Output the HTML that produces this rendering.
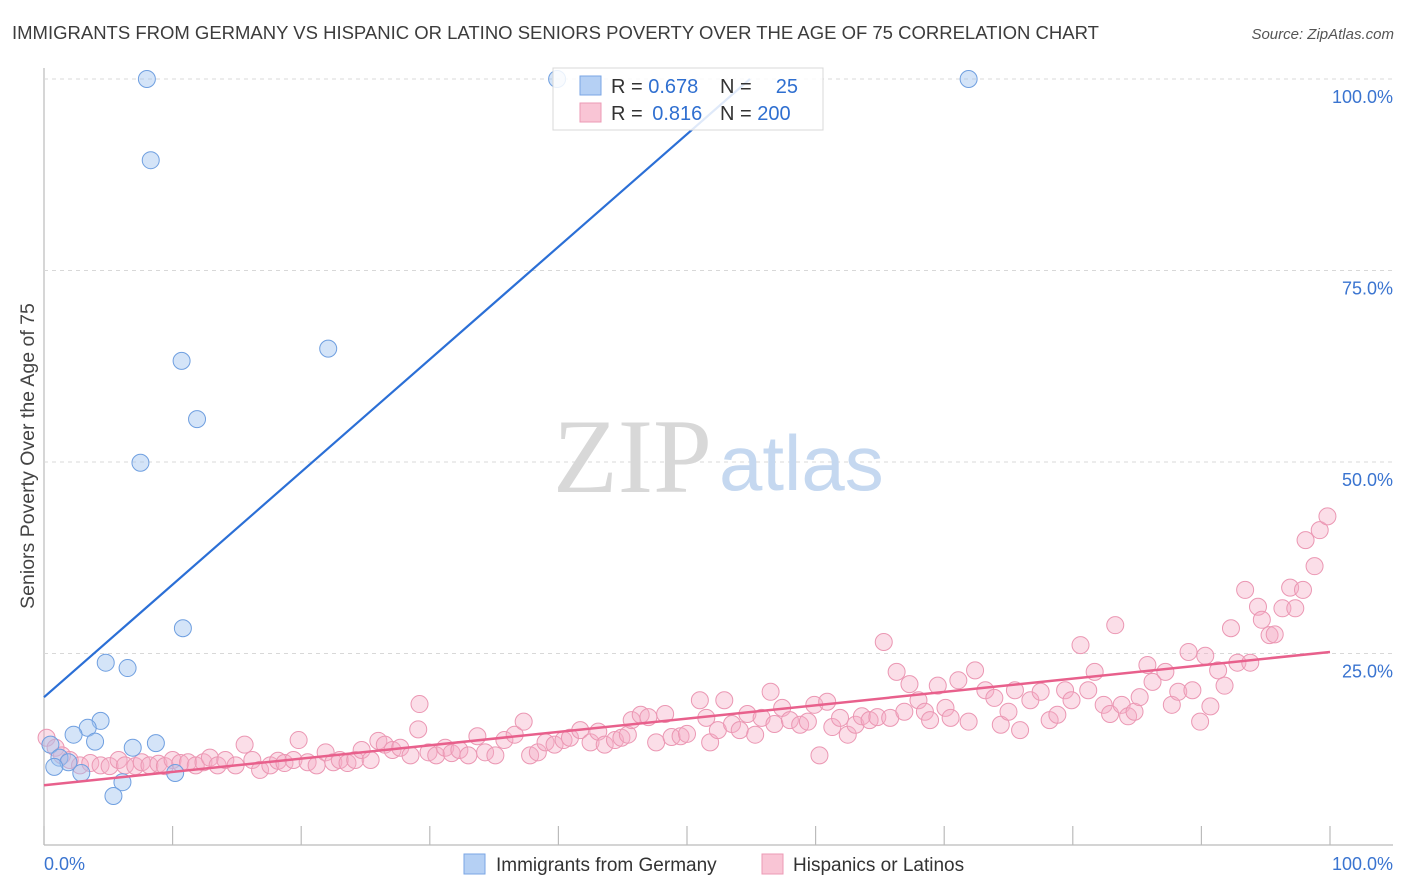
<!DOCTYPE html>
<html><head><meta charset="utf-8"><style>
body{margin:0;background:#fff;font-family:"Liberation Sans",sans-serif;}
#wrap{position:relative;width:1406px;height:892px;overflow:hidden;}
</style></head><body>
<div id="wrap">
<svg id="chart" width="1406" height="892" xmlns="http://www.w3.org/2000/svg">
<text x="12" y="39" font-size="18.5" fill="#3c3c3c">IMMIGRANTS FROM GERMANY VS HISPANIC OR LATINO SENIORS POVERTY OVER THE AGE OF 75 CORRELATION CHART</text>
<text x="1394" y="39" font-size="15" font-style="italic" fill="#555" text-anchor="end">Source: ZipAtlas.com</text>
<text transform="translate(34,456) rotate(-90)" font-size="19.5" fill="#444" text-anchor="middle">Seniors Poverty Over the Age of 75</text>
<g id="grid"></g>
<g>
<text x="553" y="492" font-family="Liberation Serif,serif" font-size="106" fill="#d8d8d8">ZIP</text>
<text x="719" y="490" font-size="78" fill="#c5d8f0">atlas</text>
</g>
<g id="pts"></g>
<g id="lines"></g>
<g>
<rect x="553" y="68" width="270" height="62" fill="rgba(255,255,255,0.85)" stroke="#d8d8d8"/>
<rect x="580" y="76" width="21" height="19" fill="#b5d0f4" stroke="#7aa6e4"/>
<text x="611" y="93" font-size="20" fill="#333">R = <tspan fill="#2f6fd0">0.678</tspan></text>
<text x="720" y="93" font-size="20" fill="#333">N =</text>
<text x="798" y="93" font-size="20" fill="#2f6fd0" text-anchor="end">25</text>
<rect x="580" y="103" width="21" height="19" fill="#f9c5d5" stroke="#ec9ab5"/>
<text x="611" y="120" font-size="20" fill="#333">R = <tspan fill="#2f6fd0" dx="4">0.816</tspan></text>
<text x="720" y="120" font-size="20" fill="#333">N = <tspan fill="#2f6fd0">200</tspan></text>
</g>
<g>
<rect x="464" y="854" width="21" height="20" fill="#b5d0f4" stroke="#7aa6e4"/>
<text x="496" y="871" font-size="19" fill="#333">Immigrants from Germany</text>
<rect x="762" y="854" width="21" height="20" fill="#f9c5d5" stroke="#ec9ab5"/>
<text x="793" y="871" font-size="19" fill="#333">Hispanics or Latinos</text>
</g>
<text x="44" y="870" font-size="18" fill="#3a74d0">0.0%</text>
<text x="1393" y="870" font-size="18" fill="#3a74d0" text-anchor="end">100.0%</text>
</svg>
</div>
<script>
const yTicks=[25,50,75,100];
const xTicks=[0,10,20,30,40,50,60,70,80,90,100];
const blueX=[8,39.9,71.9,8.3,10.7,22.1,11.9,7.5,10.8,4.8,6.5,4.4,3.4,2.3,3.97,6.9,8.7,0.5,1.2,1.9,0.8,2.9,10.2,6.1,5.4];
const blueY=[100,100,100,89.4,63.2,64.8,55.6,49.9,28.3,23.8,23.1,16.2,15.3,14.4,13.5,12.7,13.3,13.1,11.4,10.8,10.2,9.4,9.4,8.2,6.4];
const pinkX=[0.2,0.9,1.4,2.0,2.8,3.6,4.4,5.1,5.8,6.3,7.1,7.6,8.2,8.9,9.4,10,10.6,11.2,11.8,12.4,12.9,13.5,14.1,14.9,15.6,16.2,16.8,17.6,18.2,18.7,19.4,19.8,20.5,21.2,21.9,22.5,23,23.6,24.2,24.7,25.4,26,26.5,27.1,27.7,28.5,29.1,29.2,29.9,30.5,31.2,31.7,32.3,33,33.7,34.3,35.1,35.8,36.6,37.3,37.8,38.4,39,39.7,40.4,40.9,41.7,42.5,43.1,43.6,44.4,44.9,45.4,45.7,46.4,47,47.6,48.3,48.8,49.5,50,51,51.5,51.8,52.4,52.9,53.5,54.1,54.7,55.3,55.8,56.5,56.8,57.4,58,58.8,59.4,59.9,60.3,60.9,61.3,61.9,62.5,63.1,63.6,64.2,64.8,65.3,65.8,66.3,66.9,67.3,68,68.5,68.9,69.5,70.1,70.5,71.1,71.9,72.4,73.2,73.9,74.4,75,75.5,75.9,76.7,77.5,78.2,78.8,79.4,79.9,80.6,81.2,81.7,82.4,82.9,83.3,83.8,84.3,84.8,85.2,85.8,86.2,87.2,87.7,88.2,89,89.3,89.9,90.3,90.7,91.3,91.8,92.3,92.8,93.4,93.8,94.4,94.7,95.3,95.7,96.3,96.9,97.3,97.9,98.1,98.8,99.2,99.8];
const pinkY=[14,12.7,11.7,11.1,10.4,10.7,10.4,10.3,11.1,10.4,10.3,10.8,10.4,10.6,10.3,11.1,10.7,10.8,10.4,10.8,11.4,10.4,11.1,10.4,13.1,11.1,9.8,10.4,11,10.7,11.1,13.7,10.8,10.4,12.1,10.8,11.1,10.7,11.1,12.4,11.1,13.6,13.1,12.4,12.7,11.7,15.1,18.4,12.1,11.7,12.7,12,12.4,11.7,14.2,12.1,11.7,13.7,14.4,16.1,11.7,12.1,13.4,13.1,13.7,14,15,13.4,14.8,13.1,13.7,14,14.4,16.3,17,16.7,13.4,17.1,14.1,14.2,14.5,18.9,16.6,13.4,15,18.9,15.8,15,17.1,14.4,16.6,20,15.8,17.9,16.3,15.7,16.1,18.3,11.7,18.7,15.4,16.6,14.4,15.7,16.8,16.3,16.7,26.5,16.6,22.6,17.4,21,18.9,17.4,16.3,20.8,17.9,16.6,21.5,16.1,22.8,20.2,19.2,15.7,17.4,20.2,15,18.9,20,16.3,17,20.2,18.9,26.1,20.2,22.6,18.3,17.1,28.7,18.3,16.8,17.4,19.3,23.5,21.3,22.6,18.3,20,25.2,20.2,16.1,24.7,18.1,22.8,20.8,28.3,23.8,33.3,23.8,31.1,29.4,27.4,27.5,30.9,33.6,30.9,33.3,39.8,36.4,41.1,42.9];
const blueFit=[19.3,1.47];
const pinkFit=[7.8,0.174];
const NS='http://www.w3.org/2000/svg';
const X0=44,X1=1330,Y0=845,Y100=79;
function sx(v){return X0+(X1-X0)*v/100;}
function sy(v){return Y0-(Y0-Y100)*v/100;}
function mk(t,a,p){const e=document.createElementNS(NS,t);for(const k in a)e.setAttribute(k,a[k]);p.appendChild(e);return e;}
const grid=document.getElementById('grid');
let ax=mk('line',{x1:X0,y1:68,x2:X0,y2:Y0,stroke:'#bbb','stroke-width':1.2},grid);


let bx=mk('line',{x1:X0,y1:Y0,x2:1393,y2:Y0,stroke:'#bbb','stroke-width':1.2},grid);


yTicks.forEach(v=>{
 const g=mk('line',{x1:X0,y1:sy(v),x2:1393,y2:sy(v),stroke:'#d8d8d8','stroke-dasharray':'4,4'},grid);
 
 
 const t=mk('text',{x:1393,y:sy(v)+24,'font-size':18,fill:'#3a74d0','text-anchor':'end'},grid);
 t.textContent=v.toFixed(1)+'%';
 
 
});
xTicks.forEach(v=>{
 const l=mk('line',{x1:sx(v),y1:826,x2:sx(v),y2:Y0,stroke:'#bbb','stroke-width':1.2},grid);
 
 
});
const pts=document.getElementById('pts');
pinkX.forEach((x,i)=>{
 const c=mk('circle',{cx:sx(x),cy:sy(pinkY[i]),r:8.5,fill:'rgba(246,172,197,0.4)',stroke:'#eb97b3','stroke-width':1},pts);
 
 
});
blueX.forEach((x,i)=>{
 const c=mk('circle',{cx:sx(x),cy:sy(blueY[i]),r:8.5,fill:'rgba(160,196,240,0.45)',stroke:'#6f9fe0','stroke-width':1},pts);
 
 
});
const lines=document.getElementById('lines');
const bEnd=(100-blueFit[0])/blueFit[1];
const bl=mk('line',{x1:sx(0),y1:sy(blueFit[0]),x2:sx(bEnd),y2:sy(100),stroke:'#2b6fd6','stroke-width':2.2},lines);


const pl=mk('line',{x1:sx(0),y1:sy(pinkFit[0]),x2:sx(100),y2:sy(pinkFit[0]+pinkFit[1]*100),stroke:'#e8608c','stroke-width':2.5},lines);


</script>
</body></html>
